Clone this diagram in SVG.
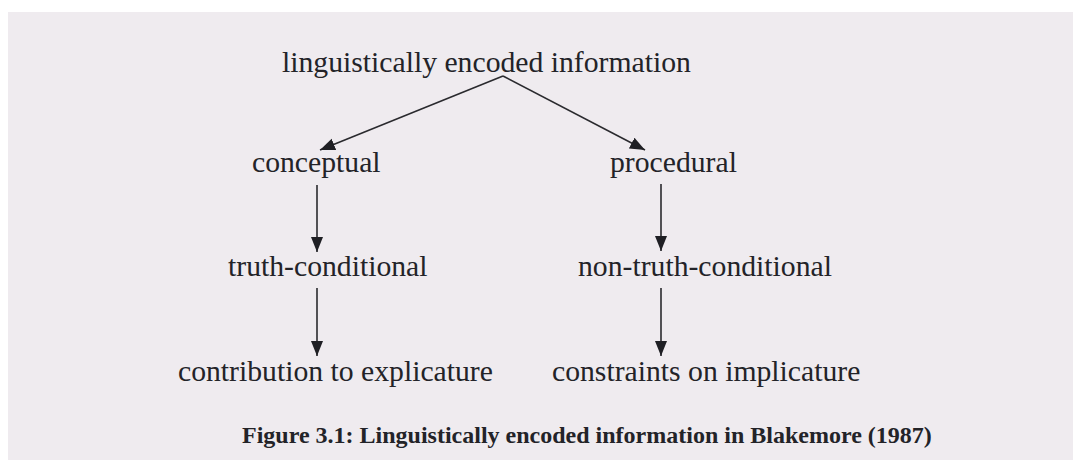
<svg xmlns="http://www.w3.org/2000/svg" width="1073" height="463" viewBox="0 0 1073 463">
  <style>
    .lbl { font-family: "Liberation Serif", "Times New Roman", serif; font-size: 29.7px; fill: #232328; }
    .cap { font-family: "Liberation Serif", "Times New Roman", serif; font-size: 24px; font-weight: bold; fill: #232328; }
    .edge { stroke: #2a2a2e; stroke-width: 1.6; fill: none; marker-end: url(#arrow); }
  </style>
  <defs>
    <marker id="arrow" markerUnits="userSpaceOnUse" markerWidth="16" markerHeight="13" refX="15" refY="6" orient="auto">
      <path d="M0,0 L15,6 L0,12 z" fill="#1f1f24"/>
    </marker>
  </defs>
  <rect x="0" y="0" width="1073" height="463" fill="#ffffff"/>
  <rect x="8" y="12" width="1065" height="448" fill="#efebef"/>

  <g id="connectors">
    <line class="edge" x1="503" y1="76" x2="320" y2="150"/>
    <line class="edge" x1="503" y1="76" x2="645" y2="150"/>
    <line class="edge" x1="317" y1="185" x2="317" y2="252"/>
    <line class="edge" x1="661" y1="184" x2="661" y2="251"/>
    <line class="edge" x1="317" y1="288" x2="317" y2="356"/>
    <line class="edge" x1="661" y1="288" x2="661" y2="356"/>
  </g>

  <g id="node-root"><text class="lbl" x="282" y="72">linguistically encoded information</text></g>
  <g id="node-conceptual"><text class="lbl" x="252" y="172">conceptual</text></g>
  <g id="node-procedural"><text class="lbl" x="610" y="172">procedural</text></g>
  <g id="node-truth-conditional"><text class="lbl" x="228" y="276">truth-conditional</text></g>
  <g id="node-non-truth-conditional"><text class="lbl" x="578" y="276">non-truth-conditional</text></g>
  <g id="node-explicature"><text class="lbl" x="178" y="381">contribution to explicature</text></g>
  <g id="node-implicature"><text class="lbl" x="552" y="381">constraints on implicature</text></g>
  <g id="caption"><text class="cap" x="242" y="443">Figure 3.1: Linguistically encoded information in Blakemore (1987)</text></g>
</svg>
